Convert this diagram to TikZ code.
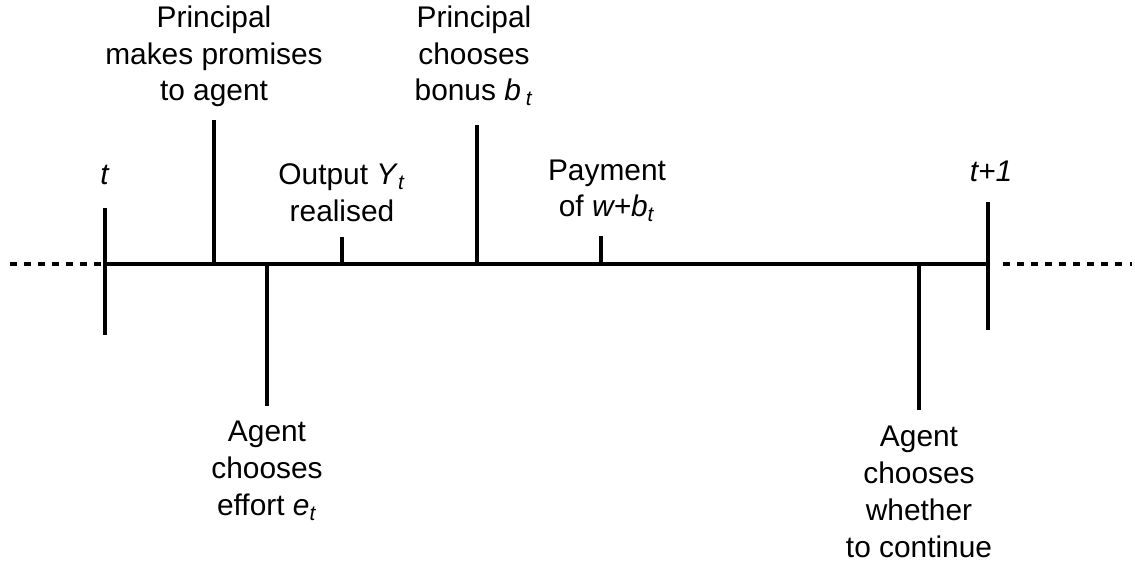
\documentclass[tikz,border=0pt]{standalone}
\usepackage{fontspec}
\setmainfont{Liberation Sans}
\usetikzlibrary{positioning}

\begin{document}
\begin{tikzpicture}[x=0.02cm,y=-0.02cm,
  axis/.style={line width=2.2pt},
  dots/.style={line width=2pt, dash pattern=on 4pt off 4pt},
  lbl/.style={align=center, inner sep=0pt, font=\fontsize{17}{21}\selectfont}]
\useasboundingbox (0,0) rectangle (1135,572);

% the period from t to t+1
\coordinate (t0) at (105,264);
\coordinate (t1) at (988,264);
\coordinate (ldash) at (10,264);
\coordinate (rstart) at (1003,264);
\coordinate (rdash) at (1132,264);
\coordinate (t0top) at (105,208);
\coordinate (t0bot) at (105,335);
\coordinate (t1top) at (988,202);
\coordinate (t1bot) at (988,330);

% events along the period
\coordinate (prom) at (214,264);
\coordinate (promtop) at (214,120);
\coordinate (eff) at (267,264);
\coordinate (effbot) at (267,406);
\coordinate (out) at (342,264);
\coordinate (outtop) at (342,237);
\coordinate (bon) at (477,264);
\coordinate (bontop) at (477,125);
\coordinate (pay) at (601,264);
\coordinate (paytop) at (601,236);
\coordinate (cont) at (919,264);
\coordinate (contbot) at (919,410);

\draw[dots] (ldash) -- (t0);
\draw[dots] (rstart) -- (rdash);
\draw[axis] (t0) -- (t1);
\draw[axis] (t0top) -- (t0bot);
\draw[axis] (t1top) -- (t1bot);
\foreach \a/\b in {prom/promtop, eff/effbot, out/outtop, bon/bontop, pay/paytop, cont/contbot}
  \draw[axis] (\a) -- (\b);

\node[lbl, above=0.46cm of t0top] (tlbl) {\textit{t}};
\node[lbl, above=0.4cm of t1top, xshift=0.06cm] (t1lbl) {\textit{t+1}};
\node[lbl, above=0.25cm of promtop] (promtxt) {Principal\\makes promises\\to agent};
\node[lbl, below=0.3cm of effbot] (efftxt) {Agent\\chooses\\effort \textit{e}\textsubscript{\textit{t}}};
\node[lbl, above=0.3cm of outtop] (outtxt) {Output \textit{Y}\textsubscript{\textit{t}}\\realised};
\node[lbl, above=0.38cm of bontop, xshift=-0.06cm] (bontxt) {Principal\\chooses\\bonus \textit{b}\,\textsubscript{\textit{t}}};
\node[lbl, above=0.28cm of paytop, xshift=0.12cm] (paytxt) {Payment\\of \textit{w+b}\textsubscript{\textit{t}}};
\node[lbl, below=0.32cm of contbot] (conttxt) {Agent\\chooses\\whether\\to continue};
\end{tikzpicture}
\end{document}
